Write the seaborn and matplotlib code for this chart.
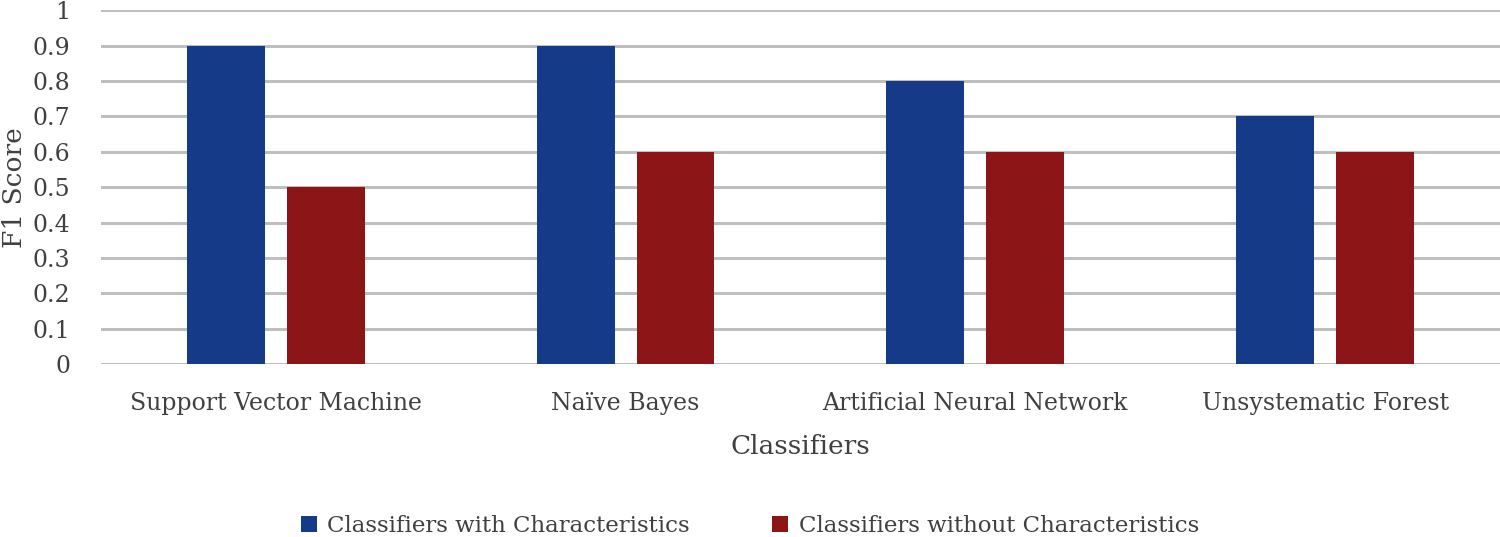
import matplotlib

matplotlib.use("Agg")
import matplotlib.pyplot as plt
import pandas as pd
import seaborn as sns
from matplotlib.ticker import FuncFormatter, MultipleLocator

CLASSIFIERS = [
    "Support Vector Machine",
    "Naïve Bayes",
    "Artificial Neural Network",
    "Unsystematic Forest",
]
SERIES = ["Classifiers with Characteristics", "Classifiers without Characteristics"]
WITH_CHAR = [0.9, 0.9, 0.8, 0.7]
WITHOUT_CHAR = [0.5, 0.6, 0.6, 0.6]
COLORS = ["#153A87", "#8B1517"]


def build_frame() -> pd.DataFrame:
    rows = []
    for name, a, b in zip(CLASSIFIERS, WITH_CHAR, WITHOUT_CHAR):
        rows.append({"Classifier": name, "Series": SERIES[0], "F1": a})
        rows.append({"Classifier": name, "Series": SERIES[1], "F1": b})
    return pd.DataFrame(rows)


def main() -> None:
    df = build_frame()
    sns.set_theme(style="white")
    plt.rcParams["font.family"] = ["DejaVu Serif"]
    text_color = "#404040"

    fig = plt.figure(figsize=(15, 5.37), dpi=100)
    ax = fig.add_axes([0.0673, 0.322, 0.9327, 0.659])

    sns.barplot(
        data=df,
        x="Classifier",
        y="F1",
        hue="Series",
        hue_order=SERIES,
        order=CLASSIFIERS,
        palette=COLORS,
        width=0.571,
        gap=0.22,
        saturation=1,
        linewidth=0,
        ax=ax,
        zorder=3,
        legend=True,
    )

    ax.set_ylim(0, 1)
    ax.set_xlim(-0.5, len(CLASSIFIERS) - 0.5)
    ax.yaxis.set_major_locator(MultipleLocator(0.1))
    ax.yaxis.set_major_formatter(FuncFormatter(lambda v, _: f"{v:g}"))
    ax.grid(axis="y", color="#bfbfbf", linewidth=2.2, zorder=0)
    ax.set_axisbelow(True)
    for spine in ax.spines.values():
        spine.set_visible(False)

    ax.tick_params(axis="both", length=0, labelsize=17, labelcolor=text_color)
    ax.tick_params(axis="y", pad=22)
    ax.tick_params(axis="x", pad=20)
    ax.set_ylabel("F1 Score", fontsize=19, color=text_color, va="center")
    ax.yaxis.set_label_coords(-0.062, 0.5)
    ax.set_xlabel("Classifiers", fontsize=19, color=text_color, labelpad=14)

    handles, labels = ax.get_legend_handles_labels()
    ax.get_legend().remove()
    fig.legend(
        handles,
        labels,
        loc="center",
        bbox_to_anchor=(0.5, 0.02),
        ncol=2,
        frameon=False,
        fontsize=16.5,
        handlelength=0.7,
        handleheight=0.7,
        handletextpad=0.45,
        columnspacing=3.6,
        labelcolor=text_color,
    )

    fig.savefig("out.png", dpi=100)
    plt.close(fig)


if __name__ == "__main__":
    main()
